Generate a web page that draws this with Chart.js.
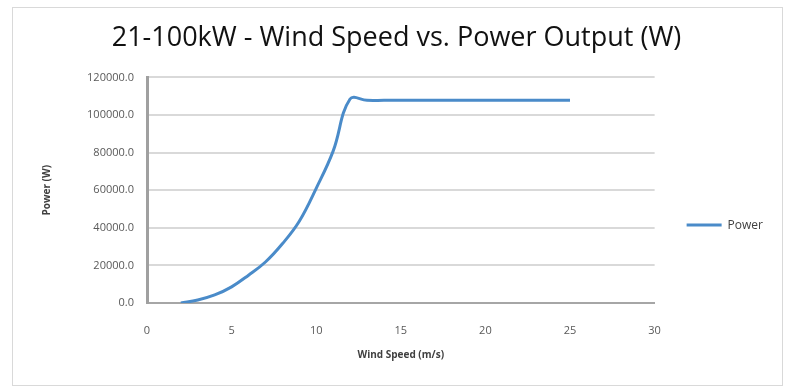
<!DOCTYPE html>
<html>
<head>
<meta charset="utf-8">
<script src="https://cdn.jsdelivr.net/npm/chart.js@4.4.1/dist/chart.umd.min.js"></script>
<style>
  html, body { margin: 0; padding: 0; background: #fff; }
  #wrap { width: 789px; height: 387px; position: relative; }
</style>
</head>
<body>
<div id="wrap"><canvas id="chart" width="789" height="387"></canvas></div>
<script>
'use strict';

// wind speed (m/s) and power (W)
const windSpeed = [2, 3, 4, 5, 6, 7, 8, 9, 10, 11, 12, 13, 14, 15, 16, 17, 18, 19, 20, 21, 22, 23, 24, 25];
const power = [0, 1600, 4300, 8600, 14800, 21800, 31500, 43500, 61000, 80800, 108500,
    107800, 107800, 107800, 107800, 107800, 107800, 107800, 107800, 107800, 107800, 107800, 107800, 107800];
const xTicks = [0, 5, 10, 15, 20, 25, 30];
const yTicks = [0, 20000, 40000, 60000, 80000, 100000, 120000];

const points = windSpeed.map((v, i) => ({ x: v, y: power[i] }));

// light frame round the whole chart, like the spreadsheet chart box
const frame = {
    id: 'frame',
    beforeDraw(chart) {
        const ctx = chart.ctx;
        ctx.save();
        ctx.strokeStyle = '#d9d9d9';
        ctx.lineWidth = 1;
        ctx.strokeRect(12.5, 7.5, 770, 378);
        ctx.restore();
    }
};

const ctx = document.getElementById('chart');
new Chart(ctx, {
    type: 'line',
    data: {
        datasets: [{
            label: 'Power',
            data: points,
            borderColor: '#4a8bc9',
            backgroundColor: '#4a8bc9',
            borderWidth: 3,
            pointRadius: 0,
            tension: 0.4,
            fill: false
        }]
    },
    options: {
        responsive: false,
        animation: false,
        layout: { padding: { left: 20, right: 16, top: 0, bottom: 0 } },
        plugins: {
            title: {
                display: true,
                text: '21-100kW - Wind Speed vs. Power Output (W)',
                color: '#111',
                font: { family: 'Open Sans', size: 27, weight: 'normal' },
                padding: { top: 22, bottom: 23 }
            },
            legend: {
                display: true,
                position: 'right',
                align: 'center',
                title: { display: true, text: ' ', padding: { top: 50, bottom: 0 }, font: { size: 11 } },
                labels: {
                    usePointStyle: true,
                    pointStyle: 'line',
                    pointStyleWidth: 35,
                    padding: 32,
                    color: '#404040',
                    font: { family: 'Open Sans', size: 12 }
                }
            },
            tooltip: { enabled: false }
        },
        scales: {
            x: {
                type: 'linear',
                min: 0,
                max: 30,
                afterBuildTicks: (axis) => { axis.ticks = xTicks.map(v => ({ value: v })); },
                afterFit: (axis) => { axis.height = 84; },
                grid: { display: false, drawTicks: false },
                border: { display: true, color: '#a6a6a6', width: 2 },
                ticks: { color: '#595959', padding: 21, font: { family: 'Open Sans', size: 11 } },
                title: {
                    display: true,
                    text: 'Wind Speed (m/s)',
                    color: '#404040',
                    font: { family: 'Open Sans', size: 10, weight: 'bold' },
                    padding: { top: 0, bottom: 26 }
                }
            },
            y: {
                min: 0,
                max: 120000,
                afterBuildTicks: (axis) => { axis.ticks = yTicks.map(v => ({ value: v })); },
                afterFit: (axis) => { axis.width = 127; },
                grid: { color: '#d9d9d9', lineWidth: 2, drawTicks: false },
                border: { display: true, color: '#a0a0a0', width: 3 },
                ticks: {
                    color: '#595959',
                    padding: 13,
                    font: { family: 'Open Sans', size: 11 },
                    callback: (value) => value.toFixed(1)
                },
                title: {
                    display: true,
                    text: 'Power (W)',
                    color: '#404040',
                    font: { family: 'Open Sans', size: 10, weight: 'bold' },
                    padding: { top: 21, bottom: 0 }
                }
            }
        }
    },
    plugins: [frame]
});
</script>
</body>
</html>
